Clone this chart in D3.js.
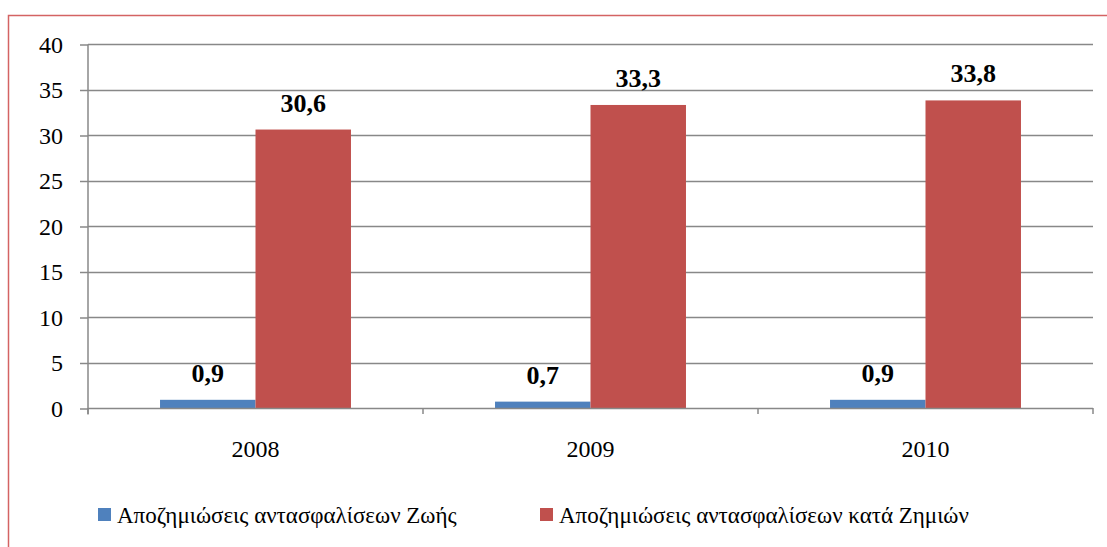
<!DOCTYPE html>
<html>
<head>
<meta charset="utf-8">
<script src="https://cdn.jsdelivr.net/npm/d3@7"></script>
</head>
<body style="margin:0">
<script>
  var years = ["2008", "2009", "2010"];
  var life = [0.9, 0.7, 0.9];
  var damage = [30.6, 33.3, 33.8];
  var series_names = ["Αποζημιώσεις αντασφαλίσεων Ζωής", "Αποζημιώσεις αντασφαλίσεων κατά Ζημιών"];
  var y_ticks = [0, 5, 10, 15, 20, 25, 30, 35, 40];

  var FONT = "Liberation Serif";
  var chart = {
    "width": 1107,
    "height": 547,
    "left": 88,
    "right": 1093,
    "top": 44,
    "bottom": 408
  };
  chart.colors = ["#4F81BD", "#C0504D"];

  var svg = d3.select("body").append("svg")
    .attr("width", chart.width)
    .attr("height", chart.height)
    .style("display", "block");

  //outer frame (only top and left edges fall inside the picture)
  svg.append("rect")
    .attr("x", 8.5).attr("y", 15.5)
    .attr("width", chart.width + 20).attr("height", chart.height + 20)
    .attr("fill", "none")
    .attr("stroke", "#D46363")
    .attr("stroke-width", 1.5);

  var x0 = d3.scaleBand()
    .domain(years)
    .range([chart.left, chart.right])
    .paddingInner(0.43)
    .paddingOuter(0.215);
  var x1 = d3.scaleBand()
    .domain([0, 1])
    .range([0, x0.bandwidth()]);
  var y = d3.scaleLinear()
    .domain([0, 40])
    .range([chart.bottom, chart.top]);

  //gridlines
  svg.append("g")
    .selectAll("line")
    .data(y_ticks.slice(1))
    .enter().append("line")
    .attr("x1", chart.left).attr("x2", chart.right)
    .attr("y1", function(d){ return Math.round(y(d)) + 0.5; })
    .attr("y2", function(d){ return Math.round(y(d)) + 0.5; })
    .attr("stroke", "#888")
    .attr("stroke-width", 1.5);

  //y axis
  var yAxis = svg.append("g")
    .attr("transform", "translate(" + chart.left + ",0.5)")
    .call(d3.axisLeft(y).tickValues(y_ticks).tickSize(8).tickPadding(17));
  yAxis.attr("font-family", FONT).attr("font-size", 24);
  yAxis.select(".domain").attr("stroke", "#888").attr("stroke-width", 1.5).attr("d", "M0," + chart.top + "V" + (chart.bottom + 6));
  yAxis.selectAll(".tick line").attr("stroke", "#888").attr("stroke-width", 1.5);
  yAxis.selectAll("text").attr("fill", "#000");

  //bars
  var rows = years.map(function(yr, i){ return {year: yr, vals: [life[i], damage[i]]}; });
  var groups = svg.append("g")
    .selectAll("g")
    .data(rows)
    .enter().append("g")
    .attr("transform", function(d){ return "translate(" + x0(d.year) + ",0)"; });
  groups.selectAll("rect")
    .data(function(d){ return d.vals; })
    .enter().append("rect")
    .attr("x", function(d, i){ return x1(i); })
    .attr("y", function(d){ return y(d); })
    .attr("width", x1.bandwidth())
    .attr("height", function(d){ return y(0) - y(d); })
    .attr("fill", function(d, i){ return chart.colors[i]; });
  groups.selectAll("text")
    .data(function(d){ return d.vals; })
    .enter().append("text")
    .attr("x", function(d, i){ return x1(i) + x1.bandwidth() / 2; })
    .attr("y", function(d){ return y(d) - 18; })
    .attr("text-anchor", "middle")
    .attr("font-family", FONT)
    .attr("font-size", 26)
    .attr("font-weight", "bold")
    .text(function(d){ return String(d).replace(".", ","); });

  //x axis
  var xAxis = svg.append("g")
    .attr("transform", "translate(0," + (chart.bottom + 0.5) + ")")
    .call(d3.axisBottom(x0).tickSize(0).tickPadding(31));
  xAxis.attr("font-family", FONT).attr("font-size", 24);
  xAxis.select(".domain").remove();
  xAxis.selectAll("text").attr("fill", "#000");
  var step = x0.step();
  svg.append("line")
    .attr("x1", chart.left).attr("x2", chart.right)
    .attr("y1", chart.bottom + 0.5).attr("y2", chart.bottom + 0.5)
    .attr("stroke", "#888").attr("stroke-width", 1.5);
  svg.append("g")
    .selectAll("line")
    .data(d3.range(years.length + 1))
    .enter().append("line")
    .attr("x1", function(i){ return chart.left + i * step; })
    .attr("x2", function(i){ return chart.left + i * step; })
    .attr("y1", chart.bottom)
    .attr("y2", chart.bottom + 6)
    .attr("stroke", "#888").attr("stroke-width", 1.5);

  //legend
  var legend_x = [98, 540];
  var legend = svg.append("g")
    .selectAll("g")
    .data(series_names)
    .enter().append("g")
    .attr("transform", function(d, i){ return "translate(" + legend_x[i] + ",508)"; });
  legend.append("rect")
    .attr("width", 13).attr("height", 13)
    .attr("fill", function(d, i){ return chart.colors[i]; });
  legend.append("text")
    .attr("x", 19).attr("y", 15)
    .attr("font-family", FONT)
    .attr("font-size", 23)
    .text(function(d){ return d; });
</script>
</body>
</html>
